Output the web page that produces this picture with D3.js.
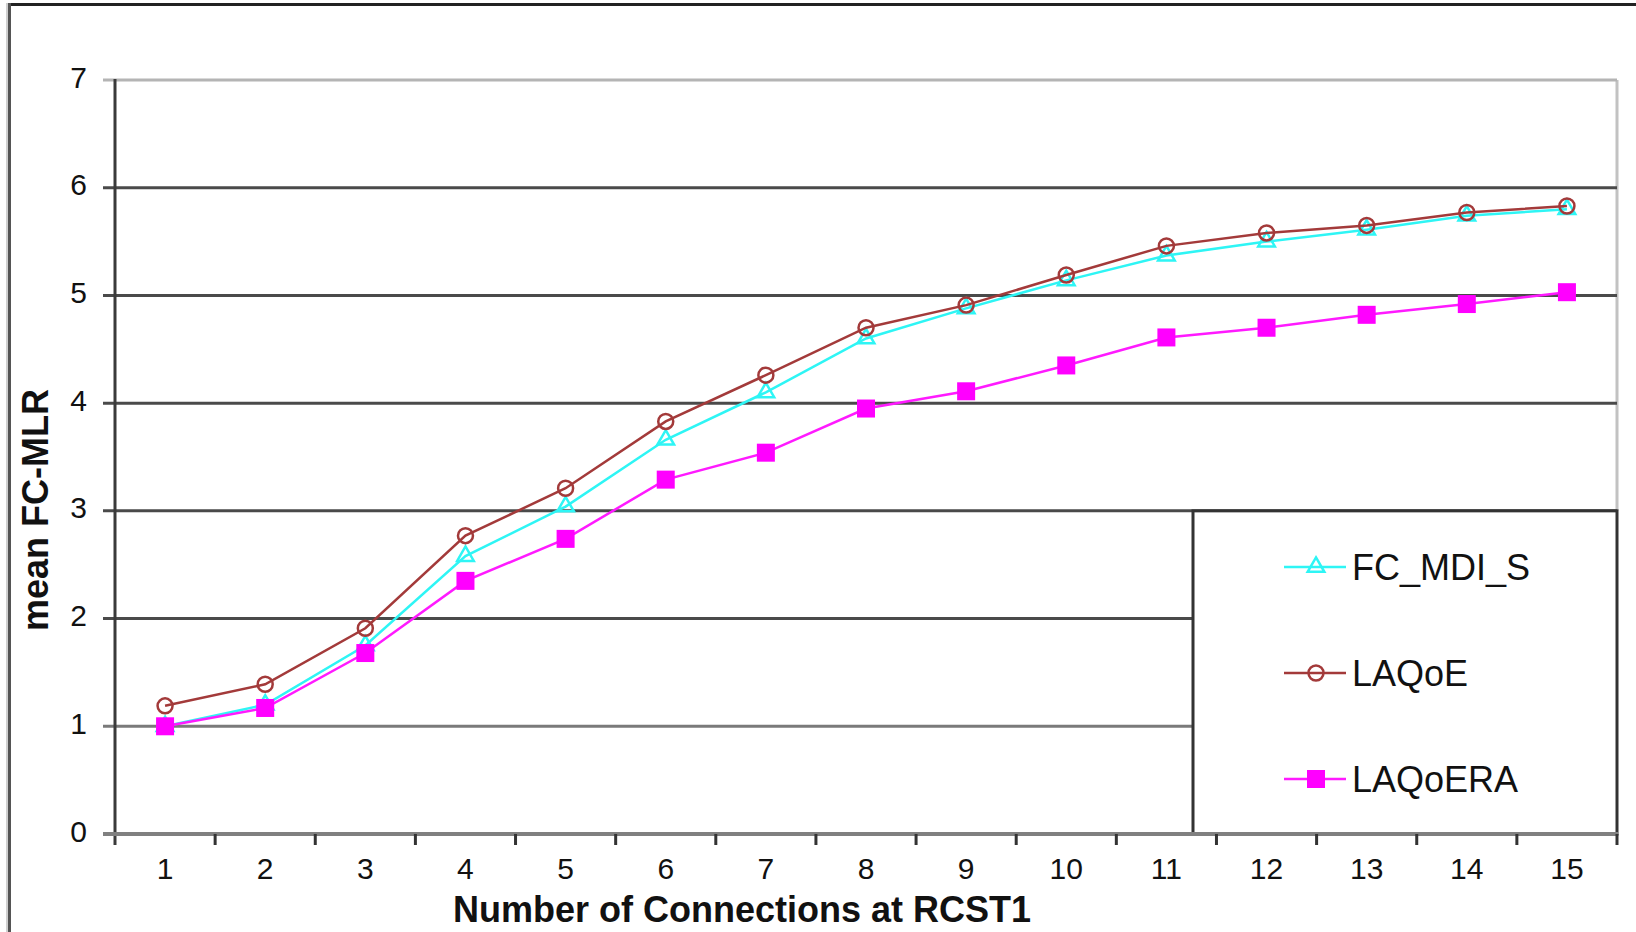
<!DOCTYPE html>
<html>
<head>
<meta charset="utf-8">
<script src="https://cdn.jsdelivr.net/npm/d3@7"></script>
<style>
  body { margin: 0; background: #fff; }
  svg { display: block; }
  text { font-family: "Liberation Sans", Arial, sans-serif; fill: #111; }
</style>
</head>
<body>
<svg id="chart" width="1636" height="932"></svg>
<script>
// Number of connections at RCST1 (x categories)
const categories = [1, 2, 3, 4, 5, 6, 7, 8, 9, 10, 11, 12, 13, 14, 15];
// y-axis tick values
const yTicks = [0, 1, 2, 3, 4, 5, 6, 7];

// mean FC-MLR per scheme
const fcMdiS  = [1.00, 1.20, 1.75, 2.58, 3.04, 3.66, 4.10, 4.60, 4.88, 5.14, 5.37, 5.50, 5.61, 5.74, 5.80];
const laqoe   = [1.19, 1.39, 1.91, 2.77, 3.21, 3.83, 4.26, 4.70, 4.91, 5.19, 5.46, 5.58, 5.65, 5.77, 5.83];
const laqoera = [1.00, 1.17, 1.68, 2.35, 2.74, 3.29, 3.54, 3.95, 4.11, 4.35, 4.61, 4.70, 4.82, 4.92, 5.03];

const seriesNames = ["FC_MDI_S", "LAQoE", "LAQoERA"];

const xTitle = "Number of Connections at RCST1";
const yTitle = "mean FC-MLR";

const series = [
  { name: seriesNames[0], values: fcMdiS,  color: "#2ef5f5", marker: "triangle" },
  { name: seriesNames[1], values: laqoe,   color: "#a33a3a", marker: "circle" },
  { name: seriesNames[2], values: laqoera, color: "#ff1aff", marker: "square" }
];

const svg = d3.select("#chart");
const plot = { left: 115, right: 1617, top: 80, bottom: 834 };

const x = d3.scaleBand().domain(categories).range([plot.left, plot.right]);
const y = d3.scaleLinear().domain([0, 7]).range([plot.bottom, plot.top]);
const cx = c => x(c) + x.bandwidth() / 2;

// outer frame (top and left edges)
svg.append("line").attr("x1", 9).attr("x2", 1636).attr("y1", 4.5).attr("y2", 4.5)
  .attr("stroke", "#222").attr("stroke-width", 3);
svg.append("line").attr("x1", 7).attr("x2", 7).attr("y1", 3).attr("y2", 932)
  .attr("stroke", "#cfcfcf").attr("stroke-width", 2);
svg.append("line").attr("x1", 9.5).attr("x2", 9.5).attr("y1", 3).attr("y2", 932)
  .attr("stroke", "#555").attr("stroke-width", 3);

// plot frame right edge
svg.append("line").attr("x1", plot.right).attr("x2", plot.right)
  .attr("y1", plot.top).attr("y2", y(3))
  .attr("stroke", "#c2c2c2").attr("stroke-width", 3);

// horizontal gridlines with outward ticks
svg.append("g").selectAll("line")
  .data(yTicks.filter(v => v > 0))
  .join("line")
  .attr("x1", plot.left - 12)
  .attr("x2", plot.right)
  .attr("y1", d => y(d))
  .attr("y2", d => y(d))
  .attr("stroke", d => d === 7 ? "#b4b4b4" : (d <= 1 ? "#7a7a7a" : "#4a4a4a"))
  .attr("stroke-width", 3);

// y tick labels
svg.append("g").selectAll("text")
  .data(yTicks)
  .join("text")
  .attr("x", 87)
  .attr("y", d => y(d) - 3)
  .attr("text-anchor", "end")
  .attr("dominant-baseline", "central")
  .attr("font-size", 30)
  .text(d => d);

// legend box (white, covers lower gridlines)
const legendBox = { x0: 1193 };
svg.append("rect")
  .attr("x", legendBox.x0)
  .attr("y", y(3))
  .attr("width", plot.right - legendBox.x0)
  .attr("height", y(0) - y(3))
  .attr("fill", "#fff")
  .attr("stroke", "#333")
  .attr("stroke-width", 3);

// left axis line
svg.append("line").attr("x1", plot.left).attr("x2", plot.left)
  .attr("y1", plot.top - 1).attr("y2", plot.bottom + 11)
  .attr("stroke", "#3a3a3a").attr("stroke-width", 3);

// x axis baseline
svg.append("line").attr("x1", plot.left - 12).attr("x2", plot.right + 1)
  .attr("y1", plot.bottom).attr("y2", plot.bottom)
  .attr("stroke", "#808080").attr("stroke-width", 4);

// x tick marks at category boundaries
const boundaries = categories.map(c => x(c)).concat([plot.right]);
svg.append("g").selectAll("line")
  .data(boundaries.slice(1))
  .join("line")
  .attr("x1", d => d).attr("x2", d => d)
  .attr("y1", plot.bottom).attr("y2", plot.bottom + 11)
  .attr("stroke", "#333").attr("stroke-width", 3);

// x tick labels
svg.append("g").selectAll("text")
  .data(categories)
  .join("text")
  .attr("x", d => cx(d))
  .attr("y", 879)
  .attr("text-anchor", "middle")
  .attr("font-size", 30)
  .text(d => d);

// axis titles
svg.append("text")
  .attr("x", 742)
  .attr("y", 922)
  .attr("text-anchor", "middle")
  .attr("font-size", 36)
  .attr("font-weight", "bold")
  .text(xTitle);

svg.append("text")
  .attr("transform", "translate(48,510) rotate(-90)")
  .attr("text-anchor", "middle")
  .attr("font-size", 36)
  .attr("font-weight", "bold")
  .text(yTitle);

// marker drawing
function drawMarker(g, s, px, py) {
  if (s.marker === "triangle") {
    g.append("path")
      .attr("transform", `translate(${px},${py})`)
      .attr("d", d3.symbol(d3.symbolTriangle, 120)())
      .attr("fill", "none").attr("stroke", s.color).attr("stroke-width", 2.5);
  } else if (s.marker === "circle") {
    g.append("circle")
      .attr("cx", px).attr("cy", py).attr("r", 7.5)
      .attr("fill", "none").attr("stroke", s.color).attr("stroke-width", 2.5);
  } else {
    g.append("rect")
      .attr("x", px - 9).attr("y", py - 9).attr("width", 18).attr("height", 18)
      .attr("fill", "#ff00ff");
  }
}

// series lines and markers
const line = d3.line().x(d => cx(d.c)).y(d => y(d.v));
series.forEach(s => {
  const pts = categories.map((c, i) => ({ c, v: s.values[i] }));
  const g = svg.append("g");
  g.append("path")
    .datum(pts)
    .attr("d", line)
    .attr("fill", "none")
    .attr("stroke", s.color)
    .attr("stroke-width", 2.5);
  pts.forEach(p => drawMarker(g, s, cx(p.c), y(p.v)));
});

// legend entries
const legendY = d3.scalePoint().domain(seriesNames).range([567, 779]);
series.forEach(s => {
  const ly = legendY(s.name);
  const g = svg.append("g");
  g.append("line").attr("x1", 1284).attr("x2", 1346).attr("y1", ly).attr("y2", ly)
    .attr("stroke", s.color).attr("stroke-width", 2.5);
  drawMarker(g, s, 1316, ly);
  g.append("text")
    .attr("x", 1352)
    .attr("y", ly + 13)
    .attr("font-size", 36)
    .text(s.name);
});
</script>
</body>
</html>
